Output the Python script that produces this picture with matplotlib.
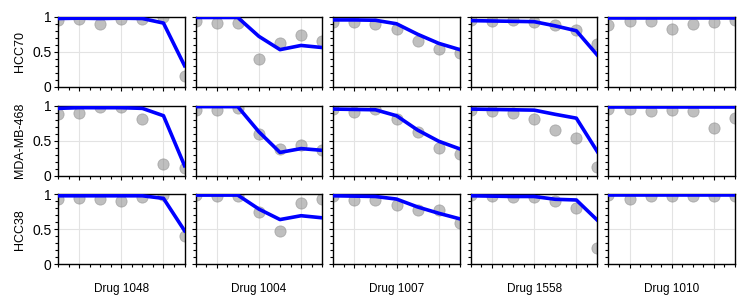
import numpy as np
import matplotlib.pyplot as plt
from matplotlib.ticker import MultipleLocator, FixedLocator

plt.rcParams['font.family'] = ['Liberation Sans', 'DejaVu Sans']
plt.rcParams['font.size'] = 8

# data
cell_lines = ['HCC70', 'MDA-MB-468', 'HCC38']
drugs = ['Drug 1048', 'Drug 1004', 'Drug 1007', 'Drug 1558', 'Drug 1010']
doses = [0, 1, 2, 3, 4, 5, 6]

# observed viability (dots), one list per cell line x drug
obs_hcc70 = [
    [0.96, 0.97, 0.90, 0.97, 0.97, 0.99, 0.15],
    [0.94, 0.915, 0.915, 0.39, 0.63, 0.74, 0.66],
    [0.93, 0.93, 0.89, 0.82, 0.65, 0.54, 0.48],
    [0.95, 0.94, 0.95, 0.925, 0.88, 0.81, 0.61],
    [0.88, 0.94, 0.94, 0.83, 0.90, 0.93, 0.96],
]
obs_mda = [
    [0.875, 0.89, 0.985, 0.985, 0.81, 0.17, 0.105],
    [0.94, 0.94, 0.97, 0.60, 0.375, 0.44, 0.36],
    [0.95, 0.915, 0.95, 0.81, 0.625, 0.40, 0.31],
    [0.94, 0.925, 0.89, 0.81, 0.65, 0.53, 0.12],
    [0.95, 0.95, 0.925, 0.94, 0.92, 0.68, 0.82],
]
obs_hcc38 = [
    [0.93, 0.95, 0.94, 0.905, 0.965, 0.99, 0.41],
    [0.99, 0.98, 0.98, 0.75, 0.475, 0.87, 0.94],
    [0.98, 0.92, 0.92, 0.855, 0.78, 0.78, 0.585],
    [0.99, 0.97, 0.96, 0.96, 0.905, 0.81, 0.24],
    [0.99, 0.93, 0.98, 0.97, 0.98, 0.98, 0.98],
]

# fitted curve (line)
fit_hcc70 = [
    [0.975, 0.98, 0.975, 0.98, 0.975, 0.91, 0.30],
    [0.99, 0.99, 0.99, 0.72, 0.53, 0.59, 0.56],
    [0.955, 0.955, 0.95, 0.90, 0.75, 0.62, 0.53],
    [0.945, 0.94, 0.935, 0.93, 0.87, 0.80, 0.45],
    [0.985, 0.985, 0.985, 0.985, 0.985, 0.985, 0.985],
]
fit_mda = [
    [0.96, 0.97, 0.97, 0.97, 0.96, 0.855, 0.14],
    [0.985, 0.985, 0.985, 0.625, 0.33, 0.385, 0.36],
    [0.95, 0.945, 0.94, 0.855, 0.65, 0.49, 0.38],
    [0.95, 0.945, 0.94, 0.935, 0.875, 0.82, 0.34],
    [0.975, 0.975, 0.975, 0.975, 0.975, 0.975, 0.975],
]
fit_hcc38 = [
    [0.98, 0.98, 0.98, 0.98, 0.98, 0.943, 0.48],
    [0.99, 0.99, 0.99, 0.79, 0.64, 0.695, 0.665],
    [0.98, 0.975, 0.97, 0.933, 0.82, 0.73, 0.65],
    [0.98, 0.975, 0.97, 0.97, 0.93, 0.92, 0.63],
    [0.995, 0.995, 0.995, 0.995, 0.995, 0.995, 0.995],
]

observed = [obs_hcc70, obs_mda, obs_hcc38]
fitted = [fit_hcc70, fit_mda, fit_hcc38]

fig, axes = plt.subplots(3, 5, figsize=(7.47, 3.05), dpi=100,
                         sharex=True, sharey=True)
fig.subplots_adjust(left=0.0776, right=0.984, top=0.945, bottom=0.1334,
                    wspace=0.087, hspace=0.27)

for i, cl in enumerate(cell_lines):
    for j, dr in enumerate(drugs):
        ax = axes[i, j]
        ax.scatter(doses, observed[i][j], s=66, color='gray', alpha=0.5,
                   edgecolors='gray', linewidths=0.6, zorder=2)
        ax.plot(doses, fitted[i][j], color='#0000ff', lw=2.6, zorder=3)

        ax.set_xlim(0, 6)
        ax.set_ylim(0, 1)
        ax.xaxis.set_major_locator(FixedLocator([1, 3, 5]))
        ax.xaxis.set_minor_locator(MultipleLocator(0.5))
        ax.yaxis.set_major_locator(FixedLocator([0, 0.5, 1]))
        ax.yaxis.set_minor_locator(MultipleLocator(0.1))
        ax.set_yticklabels(['0', '0.5', '1'])
        ax.tick_params(axis='x', which='both', labelbottom=False)
        ax.tick_params(which='major', length=3, width=0.8, direction='out')
        ax.tick_params(which='minor', length=2, width=0.8, direction='out')
        ax.tick_params(axis='y', labelsize=10, pad=1.5)
        ax.grid(True, which='major', color='#e3e3e3', lw=0.8, zorder=0)
        ax.set_axisbelow(True)
        for sp in ax.spines.values():
            sp.set_linewidth(1.0)
            sp.set_color('black')

        if j == 0:
            ax.set_ylabel(cl, fontsize=9, labelpad=5)
        if i == 2:
            ax.set_xlabel(dr, fontsize=8.5, labelpad=10.5)

fig.savefig('out.png', dpi=100)
